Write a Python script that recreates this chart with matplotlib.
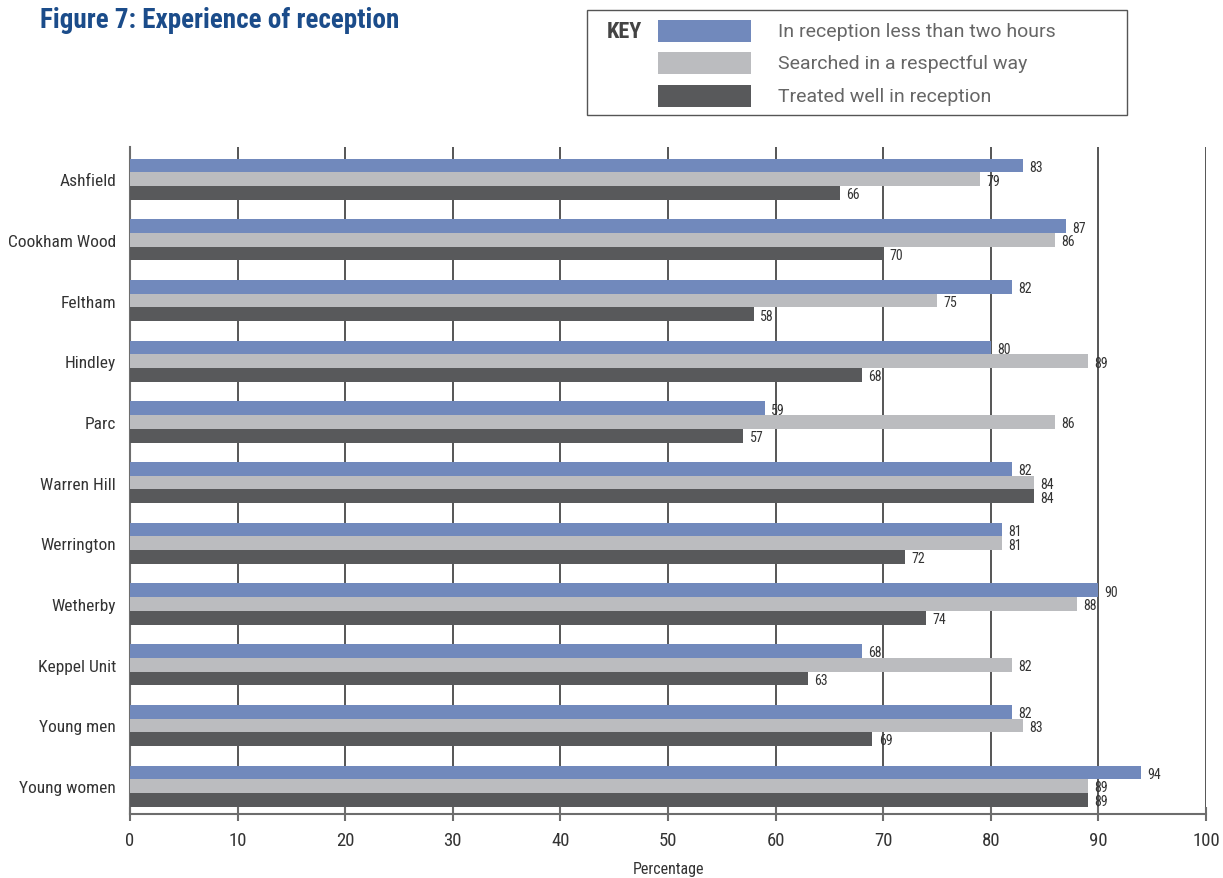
import matplotlib
matplotlib.use("Agg")
import matplotlib.pyplot as plt
from matplotlib.patches import Rectangle
import numpy as np

categories = ["Ashfield", "Cookham Wood", "Feltham", "Hindley", "Parc", "Warren Hill",
              "Werrington", "Wetherby", "Keppel Unit", "Young men", "Young women"]
series_names = ["In reception less than two hours", "Searched in a respectful way",
                "Treated well in reception"]
less_than_two_hours = [83, 87, 82, 80, 59, 82, 81, 90, 68, 82, 94]
searched_respectfully = [79, 86, 75, 89, 86, 84, 81, 88, 82, 83, 89]
treated_well = [66, 70, 58, 68, 57, 84, 72, 74, 63, 69, 89]
x_ticks = [0, 10, 20, 30, 40, 50, 60, 70, 80, 90, 100]

colors = ["#7189BC", "#BBBCBF", "#58595B"]
cond = ["Roboto Condensed", "DejaVu Sans"]
plt.rcParams['font.family'] = cond

fig = plt.figure(figsize=(12.23, 8.79), dpi=100)
W, H = 1223, 879
ax = fig.add_axes([130 / W, 1 - 815 / H, (1206 - 130) / W, (815 - 148) / H])

y = np.arange(len(categories))
bh = 0.226
series = [less_than_two_hours, searched_respectfully, treated_well]
for i, (vals, c) in enumerate(zip(series, colors)):
    pos = y + (i - 1) * bh
    ax.barh(pos, vals, height=bh, color=c, zorder=3, linewidth=0)
    for p, v in zip(pos, vals):
        ax.annotate(str(v), (v, p), xytext=(4.5, -1), textcoords="offset points",
                    va="center", ha="left", fontsize=10, color="#333333", zorder=4)

ax.set_xlim(0, 100)
ax.set_ylim(10.46, -0.53)
ax.set_xticks(x_ticks)
ax.set_xticklabels([str(t) for t in x_ticks], fontsize=13.5, color="#333333")
ax.set_yticks(y)
ax.set_yticklabels(categories, fontsize=12.5, color="#333333")
ax.tick_params(axis="y", length=0, pad=10)
ax.tick_params(axis="x", direction="inout", length=10, width=1.5, color="#6d6d6d", pad=7)
ax.grid(axis="x", color="#555555", linewidth=1.4, zorder=1)
for s in ["top", "right"]:
    ax.spines[s].set_visible(False)
ax.spines["left"].set_color("#6d6d6d")
ax.spines["left"].set_linewidth(1.5)
ax.spines["bottom"].set_color("#6d6d6d")
ax.spines["bottom"].set_linewidth(1.5)
ax.set_xlabel("Percentage", fontsize=11.5, color="#333333", labelpad=9)

# Title
fig.text(40 / W, 1 - 21 / H, "Figure 7: Experience of reception", fontsize=19.5,
         fontweight="bold", color="#1B4C8A", va="center", ha="left")

# Key box
fig.patches.append(Rectangle((587 / W, 1 - 116 / H), (1127 - 587) / W, (116 - 11) / H,
                             transform=fig.transFigure, fill=False, edgecolor="#555555",
                             linewidth=1.0))
fig.text(607 / W, 1 - 32 / H, "KEY", fontsize=16, fontweight="bold", color="#444444",
         va="center", ha="left")
key_ys = [32, 64, 97]
for ky, name, c in zip(key_ys, series_names, colors):
    fig.patches.append(Rectangle((658 / W, 1 - (ky + 11) / H), (751 - 658) / W, 22 / H,
                                 transform=fig.transFigure, facecolor=c, edgecolor="none"))
    fig.text(778 / W, 1 - ky / H, name, fontsize=14, color="#666666", va="center",
             ha="left", family=["Roboto", "DejaVu Sans"])

fig.savefig("out.png", dpi=100)
